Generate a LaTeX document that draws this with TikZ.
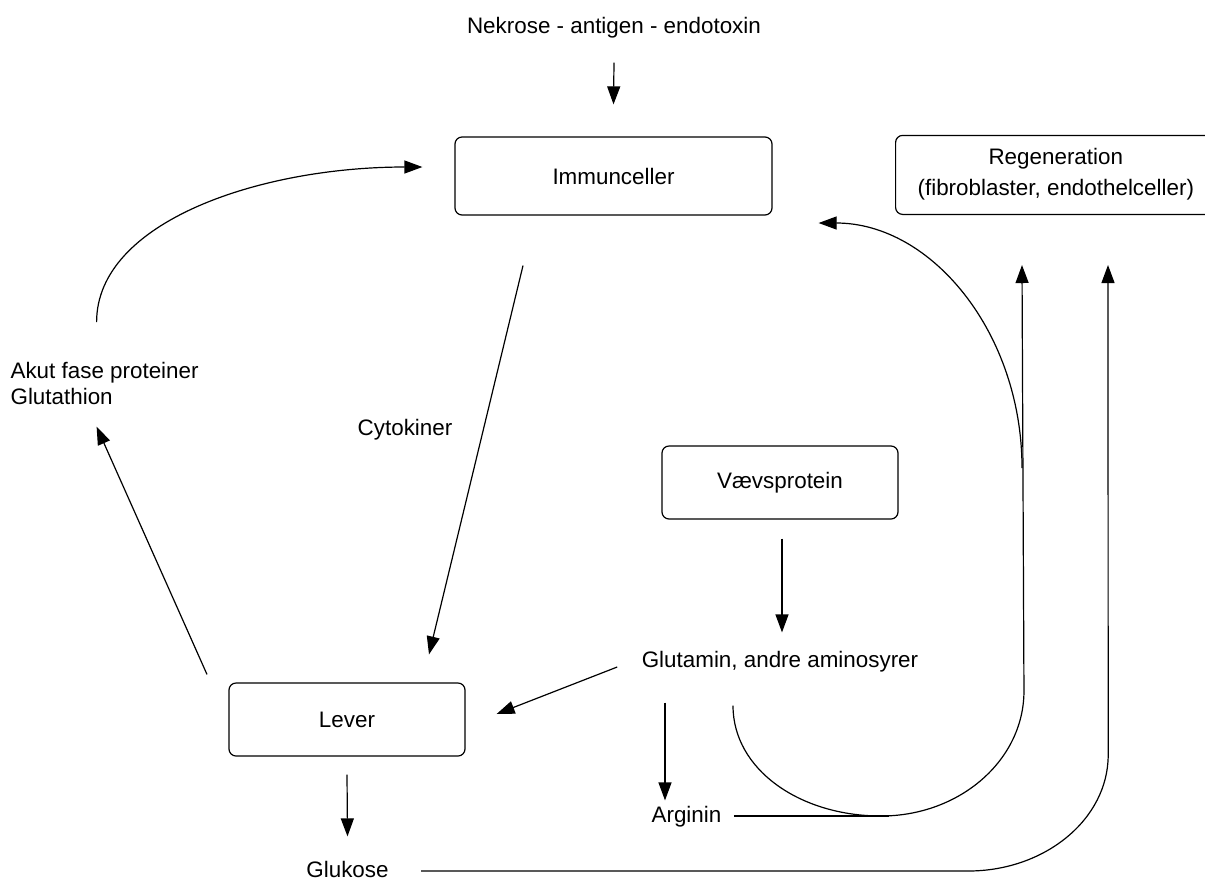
\documentclass[tikz,border=0pt]{standalone}
\usepackage{fontspec}
\setmainfont{Liberation Sans}
\usetikzlibrary{arrows.meta}

\begin{document}
\begin{tikzpicture}[x=0.5pt,y=-0.5pt,font=\fontsize{11.2}{13}\selectfont,line width=0.6pt,
  box/.style={draw,rounded corners=3.5pt,minimum width=118pt,minimum height=36.5pt},
  lbl/.style={inner sep=0pt,text height=8pt,text depth=2pt},
  arr/.style={-{Triangle[length=9pt,width=6.5pt]}}]
\useasboundingbox (0,0) rectangle (1205,880);
\node [lbl] (nek) at (614,27) {Nekrose - antigen - endotoxin};
\node [box,minimum width=158.5pt,minimum height=39pt] (imm) at (613.5,176) {Immunceller};
% box runs out over the right edge
\node [box,minimum height=39.5pt,inner xsep=11pt,anchor=south west] (regen) at (895,215)
  {\begin{tabular}{@{}c@{}}Regeneration\\[2.5pt](fibroblaster, endothelceller)\end{tabular}\hspace*{30pt}};
\node [inner sep=0pt,align=left,anchor=north west] (akut) at (10,362) {Akut fase proteiner\\Glutathion};
\node [lbl] (cyto) at (405,429) {Cytokiner};
\node [box] (vaev) at (780,482.5) {Vævsprotein};
\node [lbl] (glut) at (780,661) {Glutamin, andre aminosyrer};
\node [box] (lever) at (347,719.5) {Lever};
\node [lbl] (arg) at (686.5,816) {Arginin};
\node [lbl] (gluk) at (347.5,871) {Glukose};
\coordinate (low) at ([xshift=79.5pt]arg.east);

\draw [arr] ([yshift=-12.5pt]nek.south) -- ([yshift=16pt]imm.north);
\draw [arr] ([xshift=-4pt,yshift=20pt]akut.north) .. controls +(0,-100) and +(-163,0) .. ([xshift=-16pt,yshift=4.5pt]imm.west);
\draw [arr] ([xshift=-45.25pt,yshift=-25pt]imm.south) -- ([xshift=41pt,yshift=14pt]lever.north);
\draw [arr] ([xshift=-70pt,yshift=4pt]lever.north) -- ([xshift=-4pt,yshift=-10.5pt]akut.south);
\draw [arr] ([xshift=1pt,yshift=-9.5pt]vaev.south) -- ([xshift=1pt,yshift=9pt]glut.north);
\draw [arr] ([xshift=-12pt,yshift=-3pt]glut.west) -- ([xshift=15.5pt,yshift=2.75pt]lever.east);
\draw [arr] ([xshift=-57.5pt,yshift=-15.5pt]glut.south) -- ([xshift=-10.75pt,yshift=2.5pt]arg.north);
\draw [arr] ([yshift=-9pt]lever.south) -- ([yshift=12pt]gluk.north);
% glutamin / arginin -> regeneration
\draw ([xshift=6pt]arg.east) -- ([xshift=4pt]low);
\draw [arr] ([xshift=-23.5pt,yshift=-17pt]glut.south) .. controls +(0,64) and +(-81,0) .. (low)
      .. controls +(79,0) and +(0,69) .. ++(143,-125) -- ([xshift=63.5pt,yshift=-25pt]regen.south west);
\draw [arr] ([xshift=63.5pt,yshift=-126.5pt]regen.south west) .. controls +(0,-135) and +(113,0) .. ([xshift=23pt,yshift=-23.5pt]imm.east);
\draw [arr] ([xshift=16pt]gluk.east) -- ++(547,0) .. controls +(77,0) and +(0,64) .. ++(140,-116)
      -- ([xshift=106.5pt,yshift=-25pt]regen.south west);
\end{tikzpicture}
\end{document}
